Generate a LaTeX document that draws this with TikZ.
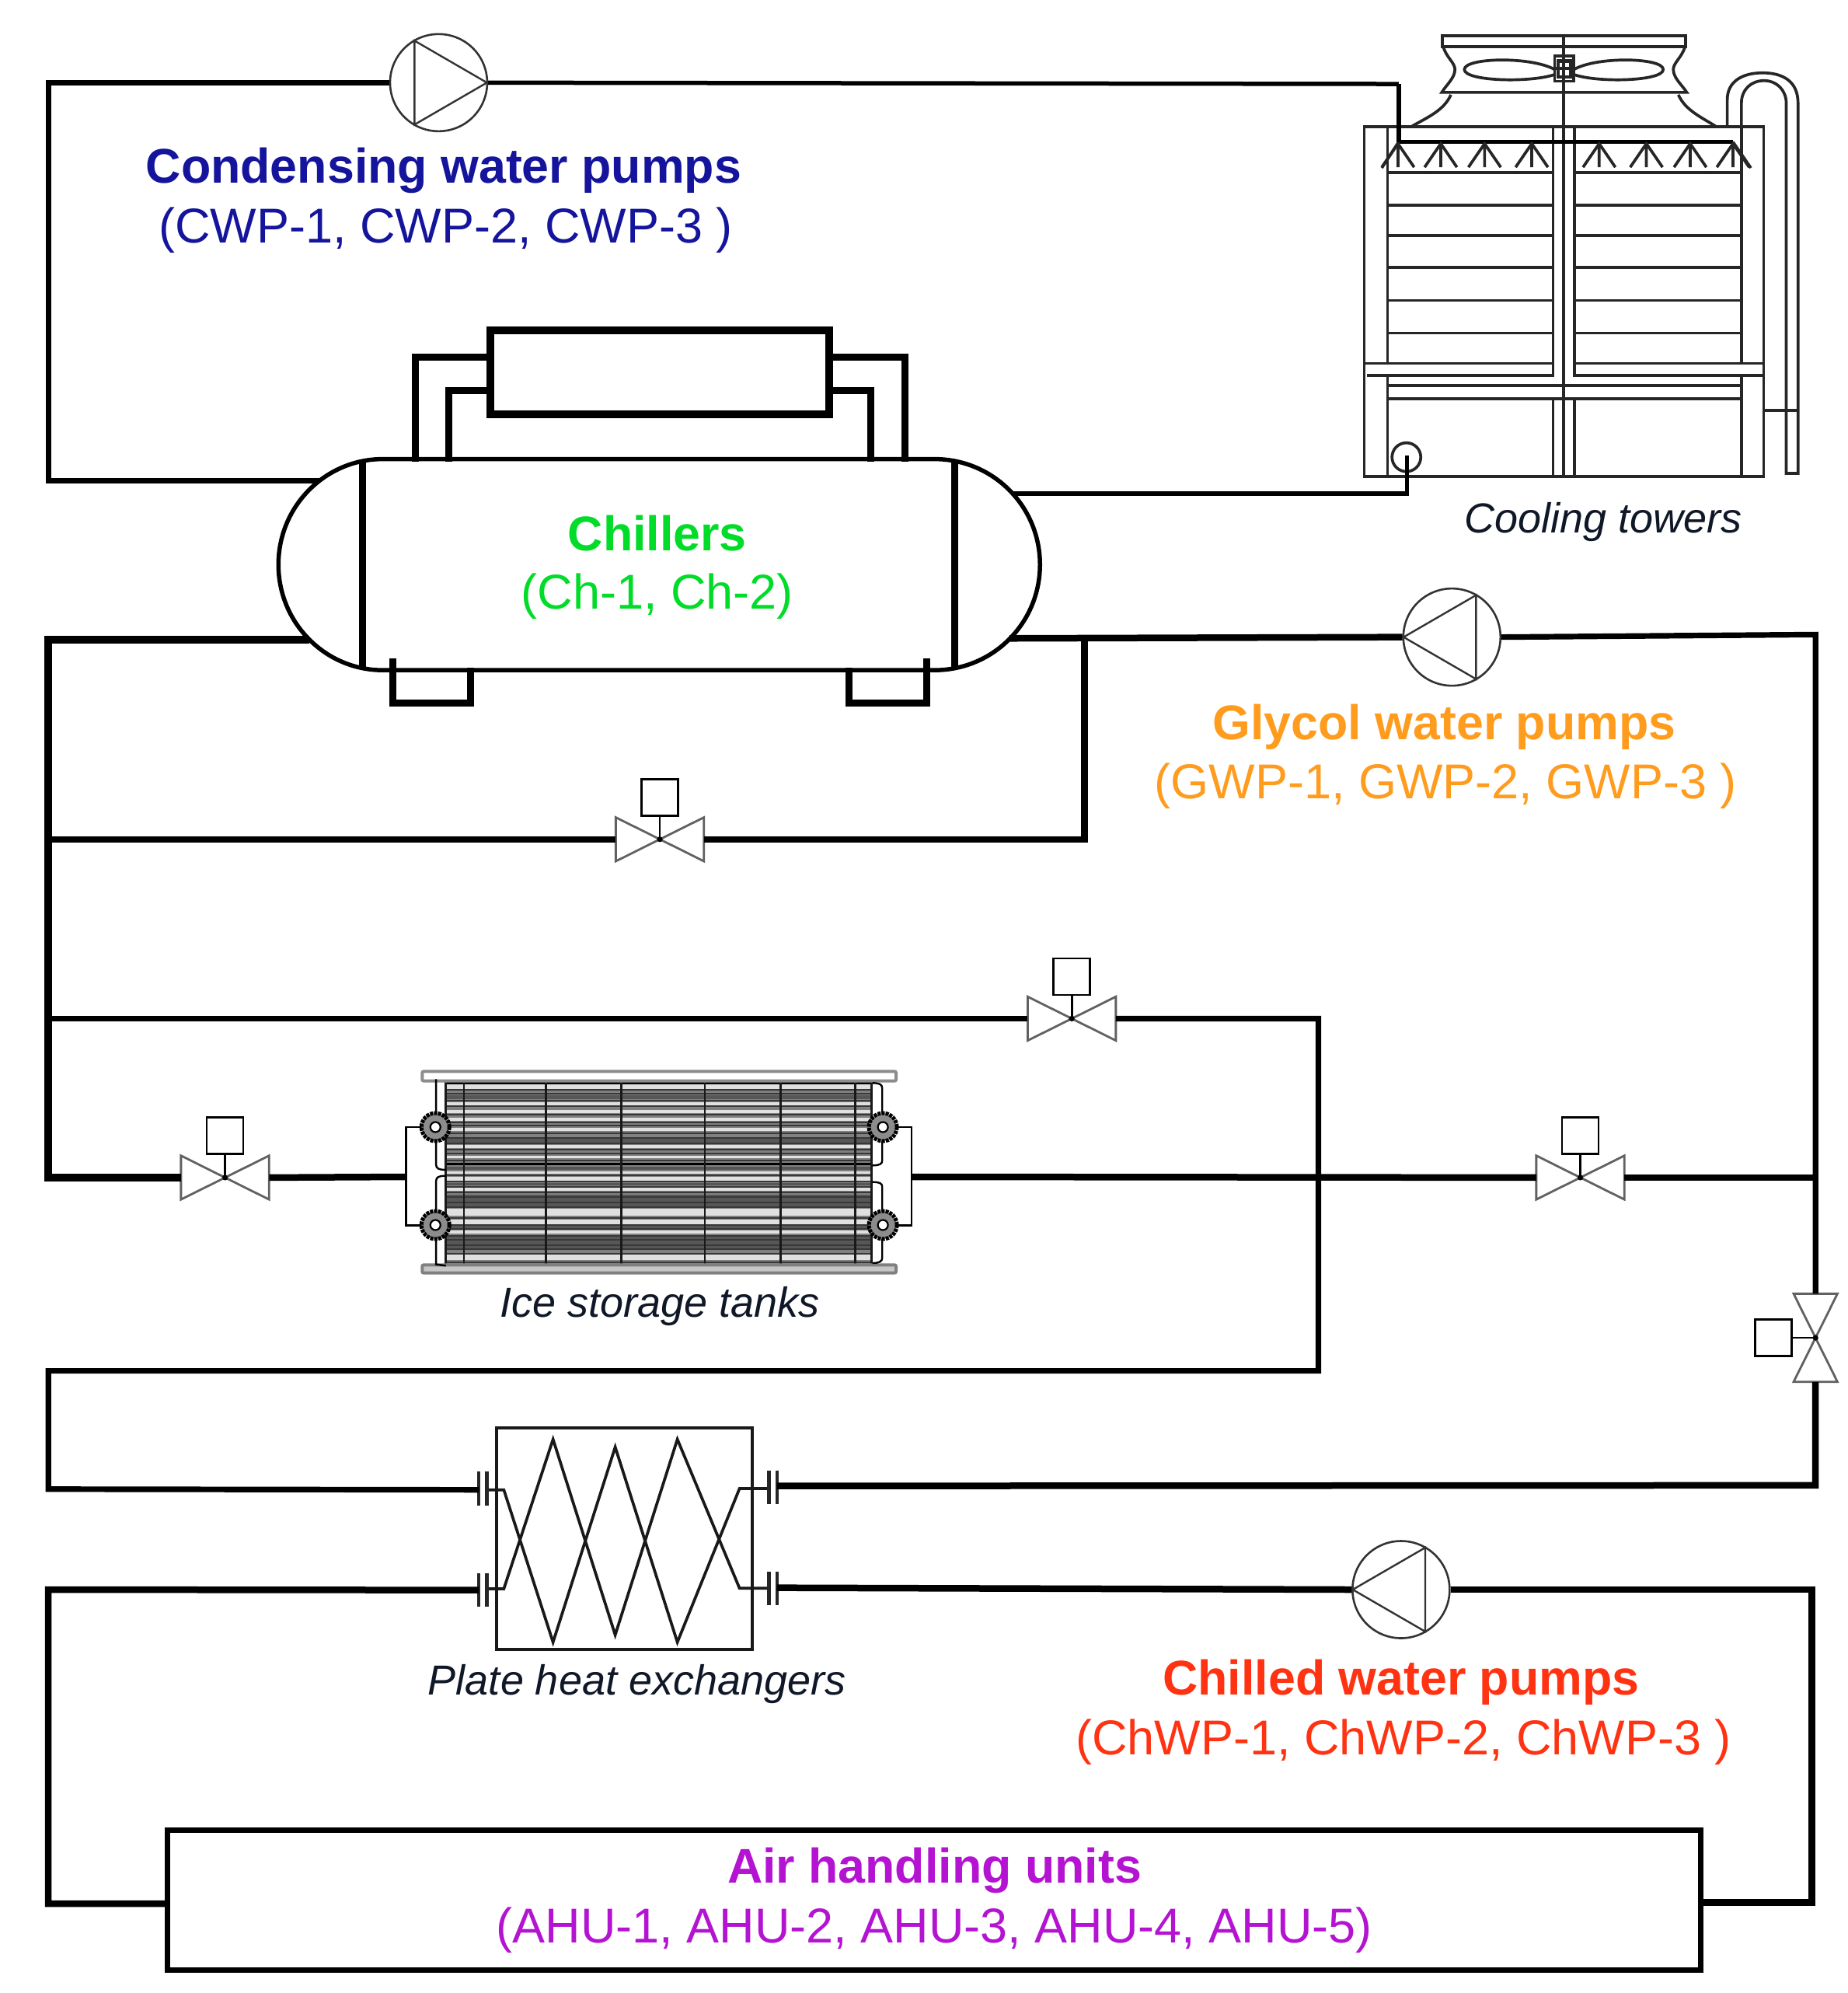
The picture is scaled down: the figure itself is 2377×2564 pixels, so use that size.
\documentclass[tikz,border=0pt]{standalone}
\usepackage{fontspec}
\setmainfont{Liberation Sans}
\usetikzlibrary{calc}
\definecolor{cwpc}{HTML}{14149C}
\definecolor{chc}{HTML}{00DC28}
\definecolor{gwc}{HTML}{FF9C1E}
\definecolor{chwc}{HTML}{FF3212}
\definecolor{ahuc}{HTML}{B414D2}
\definecolor{capc}{HTML}{101828}
\tikzset{
  D/.style={x=1.636pt,y=-1.636pt},
  pipeX/.style={draw=black,line width=9.5pt},
  pipe/.style={draw=black,line width=8.5pt},
  pipeM/.style={draw=black,line width=7.2pt},
  pipeT/.style={draw=black,line width=5.5pt},
  eq/.style={draw=black,line width=5.5pt},
  eqH/.style={draw=black,line width=9pt},
  twr/.style={draw=black!85,line width=3.7pt},
  pump/.style={circle,draw=black!80,line width=2.6pt,minimum size=125pt,inner sep=0pt,fill=white},
  ptri/.style={draw=black!80,line width=2.4pt},
  valve/.style={minimum width=113pt,minimum height=56pt,inner sep=0pt},
  valveV/.style={minimum width=56pt,minimum height=113pt,inner sep=0pt},
  vline/.style={draw=black!62,line width=2.8pt,line join=miter},
  act/.style={rectangle,draw=black,line width=2.6pt,minimum size=47pt,inner sep=0pt,fill=white},
  stem/.style={draw=black,line width=2.8pt},
  tb/.style={font=\fontsize{62.7pt}{70pt}\selectfont\bfseries,anchor=base,inner sep=0pt},
  tr/.style={font=\fontsize{63pt}{70pt}\selectfont,anchor=base,inner sep=0pt},
  capt/.style={font=\fontsize{54pt}{60pt}\selectfont\itshape,anchor=base,inner sep=0pt,text=capc},
  hxl/.style={draw=black!90,line width=3.7pt,line join=miter},
  tk/.style={draw=black,line width=2.4pt},
}
\newcommand\ValveH[3]{%
  \node[valve] (#1) at (#2,#3) {};
  \draw[vline] (#1.north west)--(#1.south east)--(#1.north east)--(#1.south west)--cycle;
  \node[act] (#1a) at (#2,#3-33) {};
  \draw[stem] (#1a.south) -- (#1.center);
  \fill[black] (#1.center) circle (2.2);
}
\begin{document}
\begin{tikzpicture}[x=1pt,y=-1pt]
\useasboundingbox (0,0) rectangle (2377,2564);
\fill[white] (0,0) rectangle (2377,2564);

% ---------- cooling tower
\begin{scope}[shift={(1700,20)},x=0.4337pt,y=-0.4337pt]
  \draw[twr] (128,330) rectangle (1313,1368);
  \draw[twr] (360,60) rectangle (1082,92);
  \draw[twr] (362,92) .. controls (372,125) and (397,140) .. (397,160) .. controls (397,185) and (372,205) .. (358,228) -- (1085,228)
     .. controls (1070,205) and (1045,185) .. (1045,160) .. controls (1045,140) and (1070,125) .. (1080,92);
  \draw[twr] (385,235) .. controls (365,280) and (320,300) .. (270,328);
  \draw[twr] (1060,235) .. controls (1080,280) and (1125,300) .. (1170,328);
  \draw[twr] (720,60) -- (720,1368);
  % fan
  \draw[twr] (693,160) .. controls (620,120) and (425,125) .. (425,160) .. controls (425,195) and (620,200) .. (693,175);
  \draw[twr] (750,160) .. controls (820,120) and (1015,125) .. (1015,160) .. controls (1015,195) and (820,200) .. (750,175);
  \draw[twr,fill=white] (693,120) rectangle (750,195);
  \draw[twr] (693,157) -- (750,157) (720,120) -- (720,195);
  \draw[twr,line width=4.5pt] (703,135) rectangle (740,182);
  % columns
  \draw[twr] (197,330) -- (197,1032) (197,1070) -- (197,1368);
  \draw[twr] (1247,330) -- (1247,1032) (1247,1070) -- (1247,1368);
  \draw[twr] (688,330) -- (688,1068) -- (135,1068);
  \draw[twr] (752,330) -- (752,1068) -- (1310,1068);
  \draw[twr] (688,1140) -- (688,1368) (752,1140) -- (752,1368);
  % louvres
  \foreach \yy in {465,562,652,747,845,942,1032} {
    \draw[twr] (197,\yy) -- (688,\yy);
    \draw[twr] (752,\yy) -- (1247,\yy);
  }
  \draw[twr] (128,1032) -- (197,1032) (1247,1032) -- (1313,1032);
  \draw[twr] (197,1097) -- (1247,1097) (197,1137) -- (1247,1137);
  % header
  \coordinate (twin) at (230,203);
  \coordinate (thead) at (230,375);
  \draw[draw=black,line width=5.5pt] (230,375) -- (1222,375);
  \foreach \nx in {228,355,485,625,825,965,1095,1222} {
    \draw[twr] (\nx-48,450) -- (\nx,380) -- (\nx+48,450) (\nx,380) -- (\nx,450);
  }
  \draw[twr] (230,375) -- (180,452) (1222,375) -- (1275,452);
  % make-up U
  \draw[twr] (1205,328) -- (1205,250) .. controls (1205,195) and (1250,170) .. (1310,170) .. controls (1370,170) and (1415,195) .. (1415,260) -- (1415,1358) -- (1380,1358) -- (1380,260) .. controls (1380,220) and (1350,193) .. (1315,193) .. controls (1275,193) and (1247,220) .. (1247,260) -- (1247,330);
  \draw[twr] (1313,1172) -- (1415,1172);
  % drain
  \node[circle,draw=black!85,line width=3.7pt,minimum size=37pt,inner sep=0pt] (tpump) at (253,1310) {};
  \coordinate (tdrain) at (255,1417);
  \coordinate (tdrainTop) at (255,1305);
  \draw[pipeT] (tdrain) -- (tdrainTop);
\end{scope}
\draw[pipeT] (twin) -- (thead);

% ---------- ice tank
\begin{scope}[shift={(500,1360)},x=0.4464pt,y=-0.3333pt]
  \fill[black!50] (165,88) rectangle (1395,808);
  \foreach \yy/\ww in {115/18,180/10,210/9,240/11,280/11,345/10,385/10,445/10,470/13,510/9,598/26,635/16,675/11,770/26} {
    \draw[white!88!black,line width=\ww*0.36pt] (165,\yy) -- (1395,\yy);
  }
  \foreach \yy/\ww in {155/14,322/16,428/12,490/10,555/50,652/14,715/44} {
    \draw[black!66,line width=\ww*0.33pt] (165,\yy) -- (1395,\yy);
  }
  \foreach \yy in {102,125,140,168,190,222,252,265,295,312,332,358,372,398,455,480,500,522,540,562,580,622,648,662,690,705,725,742,758,792} {
    \draw[black!78,line width=1.7pt] (165,\yy) -- (1395,\yy);
  }
  \draw[black,line width=3pt] (165,413) -- (1395,413);
  \draw[black,line width=2.6pt] (165,100) -- (1395,100) (165,803) -- (1395,803);
  \foreach \xx in {165,217,453,671,912,1130,1345,1392} {
    \draw[black!90,line width=2.6pt] (\xx,85) -- (\xx,805);
  }
  % plates
  \draw[draw=black!45,fill=white,line width=4pt,rounded corners=2pt] (97,55) rectangle (1463,92);
  \draw[draw=black!50,fill=black!22,line width=4pt,rounded corners=2pt] (97,802) rectangle (1463,833);
  % side tubes
  \draw[tk] (137,85) -- (137,415) .. controls (137,430) and (145,435) .. (165,435);
  \draw[tk] (165,458) .. controls (145,458) and (137,463) .. (137,478) -- (137,800) -- (165,805);
  \draw[tk] (1395,100) .. controls (1415,100) and (1423,105) .. (1423,120) -- (1423,400) .. controls (1423,412) and (1415,418) .. (1395,418);
  \draw[tk] (1395,482) .. controls (1415,482) and (1423,487) .. (1423,500) -- (1423,775) .. controls (1423,788) and (1415,795) .. (1395,795);
  % connections
  \coordinate (tkL) at (50,462);
  \coordinate (tkR) at (1508,462);
  \draw[tk] (130,270) -- (50,270) -- (50,650) -- (130,650);
  \draw[tk] (1430,270) -- (1508,270) -- (1508,650) -- (1430,650);
  % flanges
  \foreach \fx/\fy/\fn in {135/270/fa,135/648/fb,1425/270/fc,1425/648/fd} {
    \node[circle,draw=black,fill=black!45,line width=5pt,dash pattern=on 4pt off 1.2pt,minimum size=36pt,inner sep=0pt] (\fn) at (\fx,\fy) {};
    \node[circle,draw=black,fill=white,line width=2.2pt,minimum size=13pt,inner sep=0pt] (\fn c) at (\fn) {};
  }
\end{scope}

% ---------- plate heat exchanger
\begin{scope}[shift={(580,1820)},x=0.3333pt,y=-0.3333pt]
  \draw[hxl,line width=4pt] (178,52) rectangle (1165,905);
  \draw[hxl] (145,290) -- (205,290) -- (395,878) -- (635,125) -- (875,878) -- (1115,285) -- (1225,285);
  \draw[hxl] (145,672) -- (205,672) -- (395,95) -- (635,850) -- (875,95) -- (1115,670) -- (1225,670);
  \foreach \xx/\ya/\yb in {108/220/352,140/220/352,108/612/742,140/612/742,1228/215/345,1260/215/345,1228/605/735,1260/605/735} {
    \draw[black!85,line width=4.5pt] (\xx,\ya) -- (\xx,\yb);
  }
  \coordinate (hxL1) at (108,290);
  \coordinate (hxL2) at (108,677);
  \coordinate (hxR1) at (1260,275);
  \coordinate (hxR2) at (1260,668);
\end{scope}

% ---------- main in displayed coordinates
\begin{scope}[D]
  % chiller
  \node[minimum width=983pt,minimum height=272pt,inner sep=0pt] (chiller) at (518,444) {};
  \draw[eq] (301,361) -- (735,361) .. controls (781,361) and (818,398) .. (818,444) .. controls (818,490) and (781,527) .. (735,527) -- (301,527) .. controls (256,527) and (219,490) .. (219,444) .. controls (219,398) and (256,361) .. (301,361);
  \draw[eqH] (285,363) -- (285,525) (751,363) -- (751,525);
  \node[draw=black,line width=10pt,minimum width=436pt,minimum height=108pt,inner sep=0pt] (cond) at (519,293) {};
  \coordinate (cLa) at (327,363);
  \coordinate (cLb) at (353,363);
  \coordinate (cRa) at (712,363);
  \coordinate (cRb) at (685,363);
  \draw[eqH] (cLa) -- (327,281) -- (386,281);
  \draw[eqH] (cLb) -- (353,307) -- (386,307);
  \draw[eqH] (cRa) -- (712,281) -- (652,281);
  \draw[eqH] (cRb) -- (685,307) -- (652,307);
  \draw[eqH] (309,518) -- (309,553) -- (370,553) -- (370,525);
  \draw[eqH] (668,525) -- (668,553) -- (729,553) -- (729,518);
  \coordinate (chCWi) at (251,378);
  \coordinate (chCWo) at (796,388);
  \coordinate (chGL) at (243,503);
  \coordinate (chGR) at (794,502);
  % pumps
  \node[pump] (cwp) at (345,65) {};
  \draw[ptri] (326,32) -- (383,65) -- (326,98) -- cycle;
  \node[pump] (gwp) at (1142,501) {};
  \draw[ptri] (1161,468) -- (1104,501) -- (1161,534) -- cycle;
  \node[pump] (chwp) at (1102,1250) {};
  \draw[ptri] (1121,1217) -- (1064,1250) -- (1121,1283) -- cycle;
  % valves
  \ValveH{vb}{519}{660}
  \ValveH{vt}{843}{801}
  \ValveH{vl}{177}{926}
  \ValveH{vr}{1243}{926}
  \node[valveV] (vv) at (1428,1052) {};
  \draw[vline] (vv.north west)--(vv.north east)--(vv.south west)--(vv.south east)--cycle;
  \node[act] (vva) at (1395,1052) {};
  \draw[stem] (vva.east) -- (vv.center);
  \fill[black] (vv.center) circle (2.2);
  % AHU
  \node[draw=black,line width=7pt,minimum width=1973pt,minimum height=180pt,inner sep=0pt] (ahu) at (735,1494) {};
  \coordinate (ahuL) at (132,1497);
  \coordinate (ahuR) at (1338,1496);
  % pipes: condensing
  \draw[pipeM] (chCWi) -- (38,378) -- (38,65) -- (cwp.west);
  \draw[pipeT] (cwp.east) -- (twin);
  \draw[pipeT] (chCWo) -| (tdrain);
  % pipes: glycol
  \draw[pipeX] (chGL) -- (38,503) -- (38,926) -- (vl.west);
  \draw[pipe] (38,660) -- (vb.west);
  \draw[pipe] (vb.east) -- (853,660) -- (853,502);
  \draw[pipe] (chGR) -- (gwp.west);
  \draw[pipeM] (gwp.east) -- (1428,499) -- (vv.north);
  \draw[pipeM] (38,801) -- (vt.west);
  \draw[pipeM] (vt.east) -- (1037,801) -- (1037,1078) -- (38,1078) -- (38,1171) -- (hxL1);
  \draw[pipe] (vl.east) -- (tkL);
  \draw[pipe] (tkR) -- (vr.west);
  \draw[pipe] (vr.east) -- (1428,926);
  \draw[pipe] (vv.south) -- (1428,1168) -- (hxR1);
  % pipes: chilled
  \draw[pipe] (hxL2) -- (38,1250) -- (38,1497) -- (ahuL);
  \draw[pipe] (ahuR) -- (1425,1496) -- (1425,1250) -- (chwp.east);
  \draw[pipe] (chwp.west) -- (hxR2);
  % labels
  \node[tb,text=cwpc] (t1) at (349,144) {Condensing water pumps};
  \node[tr,text=cwpc] (t1b) at (350.5,191) {(CWP-1, CWP-2, CWP-3 )};
  \node[tb,text=chc] (t2) at (517,433) {Chillers};
  \node[tr,text=chc] (t2b) at (517,479) {(Ch-1, Ch-2)};
  \node[tb,text=gwc] (t3) at (1136,581.5) {Glycol water pumps};
  \node[tr,text=gwc] (t3b) at (1137,628) {(GWP-1, GWP-2, GWP-3 )};
  \node[tb,text=chwc] (t4) at (1102,1333) {Chilled water pumps};
  \node[tr,text=chwc] (t4b) at (1104,1380) {(ChWP-1, ChWP-2, ChWP-3 )};
  \node[tb,text=ahuc] (t5) at (735,1481) {Air handling units};
  \node[tr,text=ahuc] (t5b) at (735,1528) {(AHU-1, AHU-2, AHU-3, AHU-4, AHU-5)};
  \node[capt] (c1) at (1261,419) {Cooling towers};
  \node[capt] (c2) at (519,1036) {Ice storage tanks};
  \node[capt] (c3) at (501,1333) {Plate heat exchangers};
\end{scope}
\end{tikzpicture}
\end{document}
